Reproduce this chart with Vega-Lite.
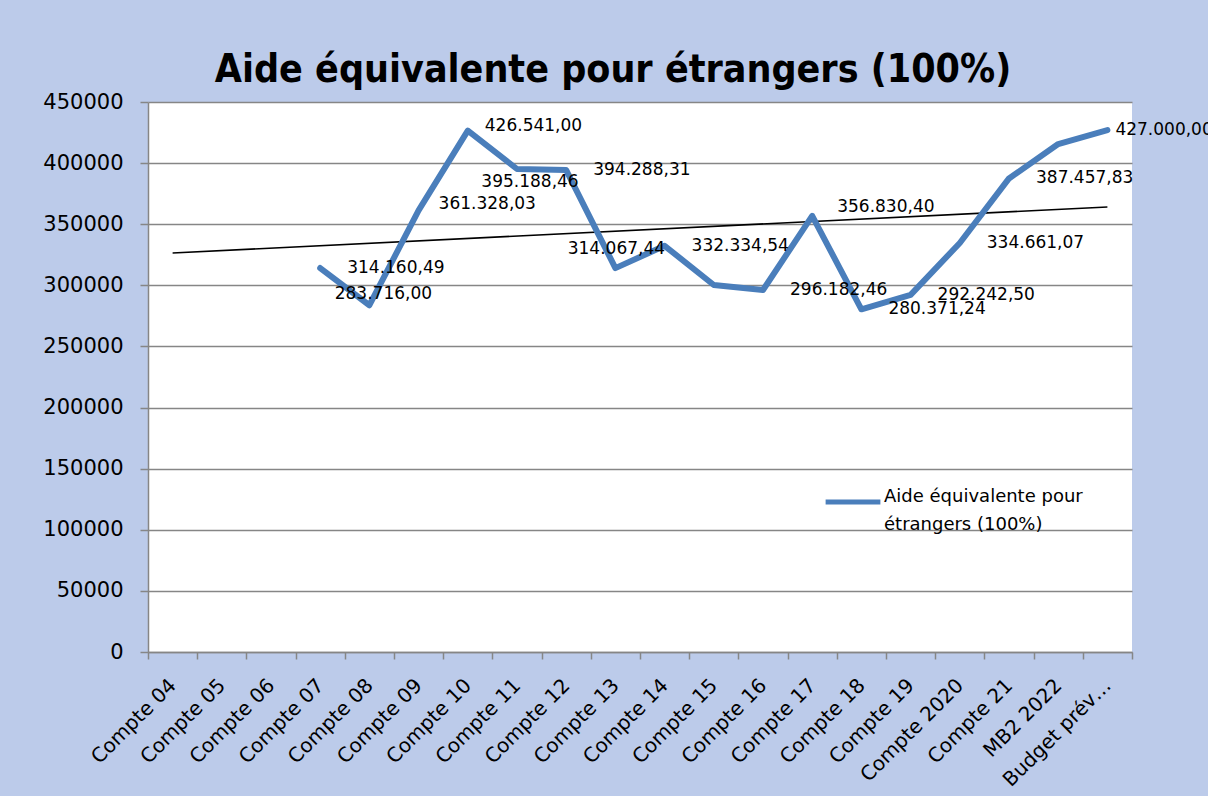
{
  "$schema": "https://vega.github.io/schema/vega-lite/v6.json",
  "width": 984,
  "height": 550,
  "autosize": {"type": "none"},
  "padding": {"left": 148, "top": 102, "right": 76, "bottom": 144},
  "background": "#bccbea",
  "config": {
    "locale": {"number": {"decimal": ",", "thousands": ".", "grouping": [3], "currency": ["", " €"]}},
    "view": {"fill": "white", "stroke": null},
    "font": "DejaVu Sans",
    "style": {"guide-label": {"lineHeight": 28}}
  },
  "title": {
    "text": "Aide équivalente pour étrangers (100%)",
    "font": "DejaVu Sans Condensed, sans-serif",
    "fontSize": 39,
    "fontWeight": "bold",
    "color": "black",
    "anchor": "middle",
    "dx": -27,
    "offset": 1
  },
  "datasets": {
    "main": [
      {"cat": "Compte 07", "v": 314160.49, "series": "Aide équivalente pour étrangers (100%)"},
      {"cat": "Compte 08", "v": 283716.00, "series": "Aide équivalente pour étrangers (100%)"},
      {"cat": "Compte 09", "v": 361328.03, "series": "Aide équivalente pour étrangers (100%)"},
      {"cat": "Compte 10", "v": 426541.00, "series": "Aide équivalente pour étrangers (100%)"},
      {"cat": "Compte 11", "v": 395188.46, "series": "Aide équivalente pour étrangers (100%)"},
      {"cat": "Compte 12", "v": 394288.31, "series": "Aide équivalente pour étrangers (100%)"},
      {"cat": "Compte 13", "v": 314067.44, "series": "Aide équivalente pour étrangers (100%)"},
      {"cat": "Compte 14", "v": 332334.54, "series": "Aide équivalente pour étrangers (100%)"},
      {"cat": "Compte 15", "v": 300270.00, "series": "Aide équivalente pour étrangers (100%)"},
      {"cat": "Compte 16", "v": 296182.46, "series": "Aide équivalente pour étrangers (100%)"},
      {"cat": "Compte 17", "v": 356830.40, "series": "Aide équivalente pour étrangers (100%)"},
      {"cat": "Compte 18", "v": 280371.24, "series": "Aide équivalente pour étrangers (100%)"},
      {"cat": "Compte 19", "v": 292242.50, "series": "Aide équivalente pour étrangers (100%)"},
      {"cat": "Compte 2020", "v": 334661.07, "series": "Aide équivalente pour étrangers (100%)"},
      {"cat": "Compte 21", "v": 387457.83, "series": "Aide équivalente pour étrangers (100%)"},
      {"cat": "MB2 2022", "v": 415600.00, "series": "Aide équivalente pour étrangers (100%)"},
      {"cat": "Budget prév…", "v": 427000.00, "series": "Aide équivalente pour étrangers (100%)"}
    ],
    "trend": [
      {"cat": "Compte 04", "v": 326450},
      {"cat": "Budget prév…", "v": 364090}
    ]
  },
  "encoding": {
    "x": {
      "field": "cat",
      "type": "nominal",
      "sort": null,
      "bandPosition": 0.5,
      "scale": {
        "type": "band",
        "paddingInner": 0,
        "paddingOuter": 0,
        "domain": ["Compte 04", "Compte 05", "Compte 06", "Compte 07", "Compte 08", "Compte 09", "Compte 10", "Compte 11", "Compte 12", "Compte 13", "Compte 14", "Compte 15", "Compte 16", "Compte 17", "Compte 18", "Compte 19", "Compte 2020", "Compte 21", "MB2 2022", "Budget prév…"]
      },
      "axis": {
        "title": null,
        "labelAngle": -45,
        "labelAlign": "right",
        "labelBaseline": "middle",
        "labelFontSize": 20,
        "labelColor": "black",
        "labelPadding": 23,
        "labelOverlap": false,
        "tickBand": "extent",
        "tickSize": 7,
        "tickColor": "#868686",
        "tickWidth": 1.5,
        "domainColor": "#868686",
        "domainWidth": 1.5,
        "grid": false
      }
    },
    "y": {
      "field": "v",
      "type": "quantitative",
      "scale": {"domain": [0, 450000], "nice": false},
      "axis": {
        "title": null,
        "values": [0, 50000, 100000, 150000, 200000, 250000, 300000, 350000, 400000, 450000],
        "format": "d",
        "labelFontSize": 21,
        "labelColor": "black",
        "labelPadding": 17,
        "tickSize": 8,
        "tickColor": "#868686",
        "tickWidth": 1.5,
        "domainColor": "#868686",
        "domainWidth": 1.5,
        "gridColor": "#868686",
        "gridWidth": 1.4
      }
    }
  },
  "layer": [
    {
      "data": {"name": "trend"},
      "mark": {"type": "line", "color": "black", "strokeWidth": 1.6}
    },
    {
      "data": {"name": "main"},
      "mark": {"type": "line", "strokeWidth": 6, "strokeJoin": "round", "strokeCap": "round"},
      "encoding": {
        "color": {
          "field": "series",
          "type": "nominal",
          "scale": {"range": ["#4a7ebb"]},
          "legend": {
            "title": null,
            "orient": "none",
            "legendX": 675,
            "legendY": 370,
            "symbolType": "stroke",
            "symbolStrokeWidth": 5,
            "symbolSize": 3000,
            "labelFontSize": 18,
            "labelColor": "black",
            "labelLimit": 400,
            "labelBaseline": "alphabetic",
            "labelOffset": 1,
            "labelExpr": "['Aide équivalente pour', 'étrangers (100%)']"
          }
        }
      }
    },
    {
      "data": {"name": "main"},
      "transform": [{"filter": {"field": "cat", "oneOf": ["Compte 07", "Compte 12", "Compte 14", "Compte 16", "Compte 18", "Compte 19", "Compte 2020", "Compte 21"]}}],
      "mark": {"type": "text", "align": "left", "baseline": "middle", "dx": 27, "fontSize": 17, "color": "black"},
      "encoding": {"text": {"field": "v", "type": "quantitative", "format": ",.2f"}}
    },
    {
      "data": {"name": "main"},
      "transform": [{"filter": {"field": "cat", "equal": "Compte 17"}}],
      "mark": {"type": "text", "align": "left", "baseline": "middle", "dx": 25, "dy": -9, "fontSize": 17, "color": "black"},
      "encoding": {"text": {"field": "v", "type": "quantitative", "format": ",.2f"}}
    },
    {
      "data": {"name": "main"},
      "transform": [{"filter": {"field": "cat", "equal": "Compte 09"}}],
      "mark": {"type": "text", "align": "left", "baseline": "middle", "dx": 20, "dy": -6, "fontSize": 17, "color": "black"},
      "encoding": {"text": {"field": "v", "type": "quantitative", "format": ",.2f"}}
    },
    {
      "data": {"name": "main"},
      "transform": [{"filter": {"field": "cat", "equal": "Compte 10"}}],
      "mark": {"type": "text", "align": "left", "baseline": "middle", "dx": 17, "dy": -5, "fontSize": 17, "color": "black"},
      "encoding": {"text": {"field": "v", "type": "quantitative", "format": ",.2f"}}
    },
    {
      "data": {"name": "main"},
      "transform": [{"filter": {"field": "cat", "equal": "Budget prév…"}}],
      "mark": {"type": "text", "align": "left", "baseline": "middle", "dx": 8, "dy": 0, "fontSize": 17, "color": "black"},
      "encoding": {"text": {"field": "v", "type": "quantitative", "format": ",.2f"}}
    },
    {
      "data": {"name": "main"},
      "transform": [{"filter": {"field": "cat", "equal": "Compte 08"}}],
      "mark": {"type": "text", "align": "center", "baseline": "middle", "dx": 14, "dy": -11, "fontSize": 17, "color": "black"},
      "encoding": {"text": {"field": "v", "type": "quantitative", "format": ",.2f"}}
    },
    {
      "data": {"name": "main"},
      "transform": [{"filter": {"field": "cat", "equal": "Compte 11"}}],
      "mark": {"type": "text", "align": "center", "baseline": "middle", "dx": 13, "dy": 13, "fontSize": 17, "color": "black"},
      "encoding": {"text": {"field": "v", "type": "quantitative", "format": ",.2f"}}
    },
    {
      "data": {"name": "main"},
      "transform": [{"filter": {"field": "cat", "equal": "Compte 13"}}],
      "mark": {"type": "text", "align": "center", "baseline": "middle", "dx": 1, "dy": -19, "fontSize": 17, "color": "black"},
      "encoding": {"text": {"field": "v", "type": "quantitative", "format": ",.2f"}}
    }
  ]
}
